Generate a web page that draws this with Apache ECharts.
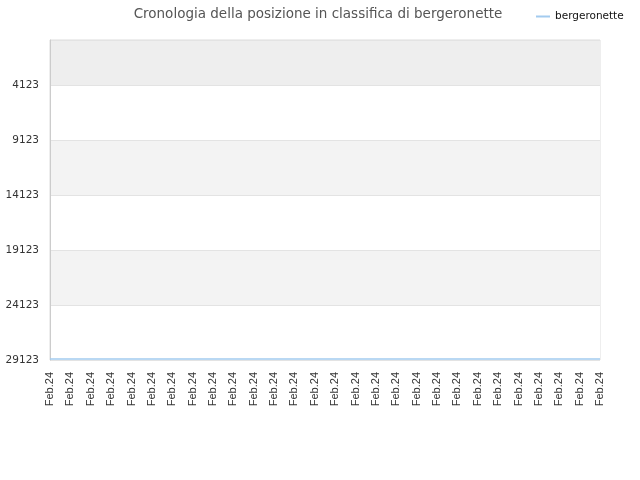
<!DOCTYPE html>
<html>
<head>
<meta charset="utf-8">
<script src="https://cdn.jsdelivr.net/npm/echarts@6/dist/echarts.min.js"></script>
<style>
html, body { margin: 0; padding: 0; background: #fff; }
#main { width: 640px; height: 480px; }
</style>
</head>
<body>
<div id="main"></div>
<script>
// dati
var dates = ["Feb.24","Feb.24","Feb.24","Feb.24","Feb.24","Feb.24","Feb.24","Feb.24","Feb.24","Feb.24",
             "Feb.24","Feb.24","Feb.24","Feb.24","Feb.24","Feb.24","Feb.24","Feb.24","Feb.24","Feb.24",
             "Feb.24","Feb.24","Feb.24","Feb.24","Feb.24","Feb.24","Feb.24","Feb.24"];
var positions = [29040,29040,29040,29040,29040,29040,29040,29040,29040,29040,
                 29040,29040,29040,29040,29040,29040,29040,29040,29040,29040,
                 29040,29040,29040,29040,29040,29040,29040,29040];
var rankWorst = 29123;
var rankBest = 1;
var rankStep = 5000;

var MyChart = {
    draw: function () {
        var chart = echarts.init(document.getElementById("main"));
        // l'asse è invertito: la posizione 1 sta in alto, quindi si usano i valori negativi
        var option = {
            animation: false,
            textStyle: { fontFamily: "DejaVu Sans" },
            title: {
                text: "Cronologia della posizione in classifica di bergeronette",
                left: 313,
                textAlign: "center",
                top: 2,
                textStyle: { fontSize: 13.5, fontWeight: "normal", color: "#555", fontFamily: "DejaVu Sans" }
            },
            legend: {
                data: ["bergeronette"],
                left: 531,
                top: 6,
                itemWidth: 14,
                itemHeight: 2,
                itemGap: 5,
                icon: "rect",
                textStyle: { fontSize: 10.5, color: "#111", fontFamily: "DejaVu Sans" }
            },
            grid: {
                left: 50, right: 40, top: 40, bottom: 120,
                show: true, borderColor: "#ddd", borderWidth: 1
            },
            xAxis: {
                type: "category",
                data: dates,
                boundaryGap: false,
                axisLine: { show: false },
                axisTick: { show: false },
                splitLine: { show: false },
                axisLabel: { rotate: 90, interval: 0, fontSize: 11, color: "#333", margin: 12, fontFamily: "Liberation Sans" }
            },
            yAxis: {
                type: "value",
                min: -rankWorst,
                max: -rankBest,
                interval: rankStep,
                axisLine: { show: true, lineStyle: { color: "#ccc" } },
                axisTick: { show: false },
                axisLabel: {
                    fontSize: 10.5, color: "#333", margin: 11, showMaxLabel: false,
                    formatter: function (v) { return String(-v); }
                },
                splitLine: { show: true, lineStyle: { color: "#e3e3e3" } },
                splitArea: { show: true, areaStyle: { color: ["#ffffff", "#f3f3f3", "#ffffff", "#f3f3f3", "#ffffff", "#eeeeee"] } }
            },
            series: [{
                name: "bergeronette",
                type: "line",
                data: positions.map(function (p) { return -p; }),
                showSymbol: false,
                lineStyle: { color: "#a3cbef", width: 1.5 },
                itemStyle: { color: "#a3cbef" }
            }]
        };
        chart.setOption(option);
    }
};

MyChart.draw();
</script>
</body>
</html>
